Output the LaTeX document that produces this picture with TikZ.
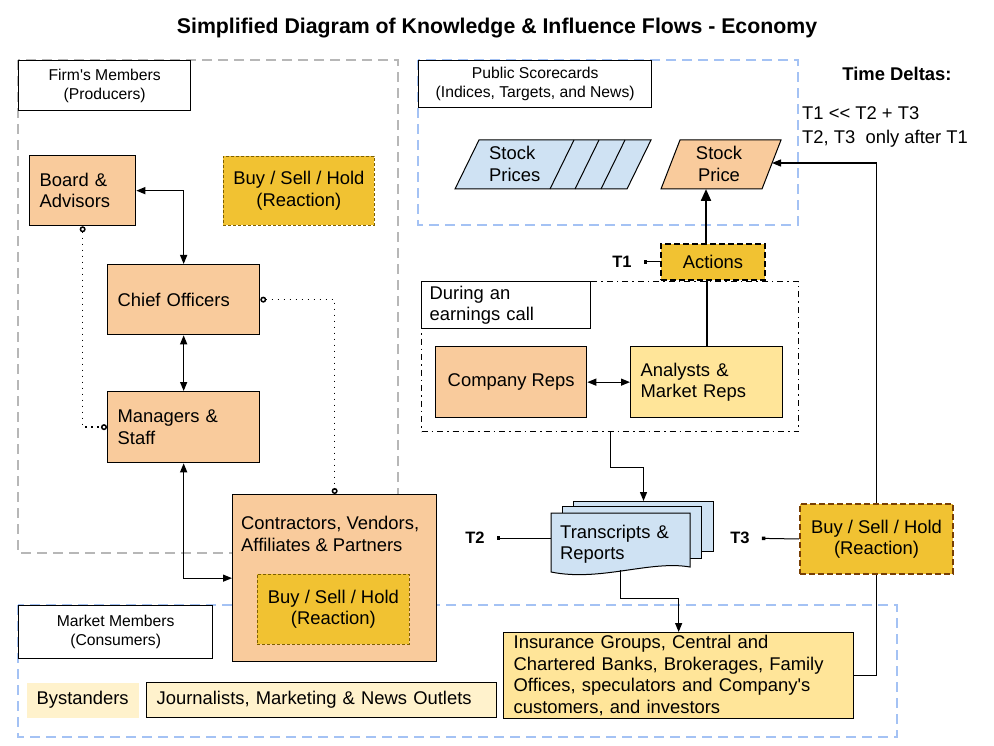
\documentclass[tikz,border=0pt]{standalone}
\usepackage{fontspec}
\setmainfont{Liberation Sans}
\usetikzlibrary{arrows.meta}

\definecolor{peach}{HTML}{F9CB9C}
\definecolor{gold}{HTML}{F1C232}
\definecolor{sand}{HTML}{FFE599}
\definecolor{cream}{HTML}{FFF2CC}
\definecolor{sky}{HTML}{CFE2F3}
\definecolor{blueline}{HTML}{A4C2F4}
\definecolor{greyline}{HTML}{B7B7B7}
\definecolor{brownline}{HTML}{783F04}
\definecolor{oliveline}{HTML}{7F6000}

\begin{document}
\begin{tikzpicture}[x=1pt, y=-1pt,
  every node/.style={font=\fontsize{18.4}{21.5}\selectfont},
  box/.style={draw, line width=1.3pt, anchor=north west, inner sep=0pt},
  lbl/.style={box, fill=white, align=center, font=\fontsize{15.7}{19}\selectfont},
  orgbox/.style={box, fill=peach},
  react/.style={box, fill=gold, draw=oliveline, line width=0.8pt, dash pattern=on 3pt off 2pt, align=center},
  tlab/.style={font=\bfseries\fontsize{16.5}{19}\selectfont, inner sep=2pt},
  tlink/.style={line width=1pt, {Square[length=3.5pt,width=3.5pt]}-, shorten <=10pt},
  arrow/.style={line width=1.3pt, -{Triangle[length=9pt,width=7pt]}},
  twoway/.style={line width=1.3pt, {Triangle[length=9pt,width=7pt]}-{Triangle[length=9pt,width=7pt]}},
  dotlink/.style={line width=1.5pt, dash pattern=on 1.5pt off 4.5pt, {Circle[open,length=6pt,width=6pt]}-{Circle[open,length=6pt,width=6pt]}},
  group/.style={line width=1.5pt, dash pattern=on 10pt off 6pt}
]
\useasboundingbox (0,0) rectangle (994,746);

\node[font=\bfseries\fontsize{21.3}{25}\selectfont] (title) at (497,28) {Simplified Diagram of Knowledge \& Influence Flows - Economy};

% groups
\draw[group, greyline] (18,60) rectangle (398,553);
\draw[group, blueline] (418,60) rectangle (798,225);
\draw[group, blueline] (18,605) rectangle (897,737);
\node[box, dash pattern=on 6pt off 4pt on 1.5pt off 4pt, minimum width=377, minimum height=150] (ec) at (421,281) {};

\node[lbl, minimum width=172, minimum height=50] (firmlbl) at (18,60) {Firm\textquotesingle s Members\\(Producers)};
\node[lbl, minimum width=233, minimum height=47] (publbl) at (418,60) {Public Scorecards\\(Indices, Targets, and News)};
\node[lbl, minimum width=194, minimum height=53] (mktlbl) at (18,605) {Market Members\\(Consumers)};
\node[box, fill=white, align=left, inner xsep=8pt, text width=153, minimum height=47] (earnlbl) at (421,281) {During an\\earnings call};

% firm's members
\node[orgbox, align=left, inner xsep=10pt, text width=86, minimum height=70] (board) at (29,155) {Board \&\\Advisors};
\node[react, minimum width=151, minimum height=69] (bshtop) at (223,156) {Buy / Sell / Hold\\(Reaction)};
\node[orgbox, align=left, inner xsep=10pt, text width=132, minimum height=70] (chief) at (107,264) {Chief Officers};
\node[orgbox, align=left, inner xsep=10pt, text width=132, minimum height=71] (mgr) at (107,391) {Managers \&\\Staff};
\node[orgbox, minimum width=204, minimum height=167] (contr) at (232,494) {};
\node[anchor=north west, align=left, inner sep=0pt] (contrtxt) at ([xshift=9pt,yshift=-22pt]contr.north west) {Contractors, Vendors,\\Affiliates \& Partners};
\node[react, minimum width=152, minimum height=70] (bshin) at (257,574) {Buy / Sell / Hold\\(Reaction)};

% scorecards
\draw[fill=sky, line width=1pt] (455,189) -- (479,140) -- (651,140) -- (627,189) -- cycle;
\foreach \d in {574,599,625}
    \draw[line width=1pt] (\d,140) -- (\d-24,189);
\node[anchor=west, align=left, inner sep=0pt] (prices) at (489,164) {Stock\\Prices};
\draw[fill=peach, line width=1pt] (661,189) -- (680,140) -- (781,140) -- (762,189) -- cycle;
\node[align=center] (price) at (719,164) {Stock\\Price};
\coordinate (priceS) at (706,189);
\coordinate (priceE) at (772,163);

% earnings call
\node[box, fill=gold, line width=2pt, dash pattern=on 6pt off 3pt, minimum width=104, minimum height=36] (actions) at (660,243) {Actions};
\node[orgbox, minimum width=151, minimum height=71] (comp) at (435,346) {Company Reps};
\node[box, fill=sand, align=left, inner xsep=10pt, text width=132, minimum height=71] (anly) at (630,346) {Analysts \&\\Market Reps};

% transcripts
\node[box, fill=sky, line width=1pt, minimum width=140, minimum height=50] (trback) at (573,501) {};
\node[box, fill=sky, line width=1pt, minimum width=139, minimum height=52] (trmid) at (562,506) {};
\draw[fill=sky, line width=1pt] (551,513) -- (690,513) -- (690,567) .. controls (650,560) and (600,582) .. (551,572) -- cycle;
\node[anchor=north west, align=left, inner xsep=9pt, inner ysep=0pt, text width=121, minimum height=62] (tr) at (551,513) {Transcripts \&\\Reports};

\node[box, fill=gold, draw=brownline, line width=2pt, dash pattern=on 6pt off 3pt, align=center, minimum width=153, minimum height=70] (bshright) at (799,503) {Buy / Sell / Hold\\(Reaction)};

% market members
\node[box, fill=sand, align=left, inner xsep=10pt, text width=330, minimum height=86] (ins) at (503,632) {Insurance Groups, Central and\\Chartered Banks, Brokerages, Family\\Offices, speculators and Company\textquotesingle s\\customers, and investors};
\node[box, draw=none, fill=cream, minimum width=112, minimum height=35] (byst) at (26,682) {Bystanders};
\node[box, fill=cream, align=left, inner xsep=10pt, text width=330, minimum height=35] (journ) at (146,682) {Journalists, Marketing \& News Outlets};

% time deltas
\node[font=\bfseries\fontsize{18.4}{21}\selectfont] (deltas) at (897,74) {Time Deltas:};
\node[anchor=west, align=left, inner sep=0pt, font=\fontsize{18.4}{24}\selectfont] (rules) at (802,127) {T1 \textless{}\textless{} T2 + T3\\T2, T3\ \ only after T1};

\node[tlab] (t1) at (622,262) {T1};
\node[tlab] (t2) at (475,538) {T2};
\node[tlab] (t3) at (740,538) {T3};

% connectors
\draw[twoway] (board.east) -| (chief.north);
\draw[twoway] (chief.south) -- (mgr.north);
\draw[twoway] (mgr.south) |- (contr.west);
\draw[dotlink] (board.south) |- (mgr.west);
\draw[dotlink] (chief.east) -| (contr.north);
\draw[twoway] (comp.east) -- (anly.west);
\draw[line width=2.2pt] (anly.north) -- (anly.north |- actions.south);
\draw[line width=2.2pt, -{Triangle[length=12pt,width=10pt]}] (actions.north -| priceS) -- (priceS);
\draw[arrow] (ec.south) -- ++(0,35) -| (trback.north);
\draw[arrow] ([yshift=5pt]tr.south) -- ++(0,28) -| (ins.north);
\draw[line width=1.3pt] (ins.east) -| (bshright.south);
\draw[arrow] (bshright.north) |- (priceE);
\draw[tlink] (t1) -- (actions.west);
\draw[tlink] (t2) -- (t2 -| tr.west);
\draw[tlink] (t3) -- (bshright.west);

\end{tikzpicture}
\end{document}
